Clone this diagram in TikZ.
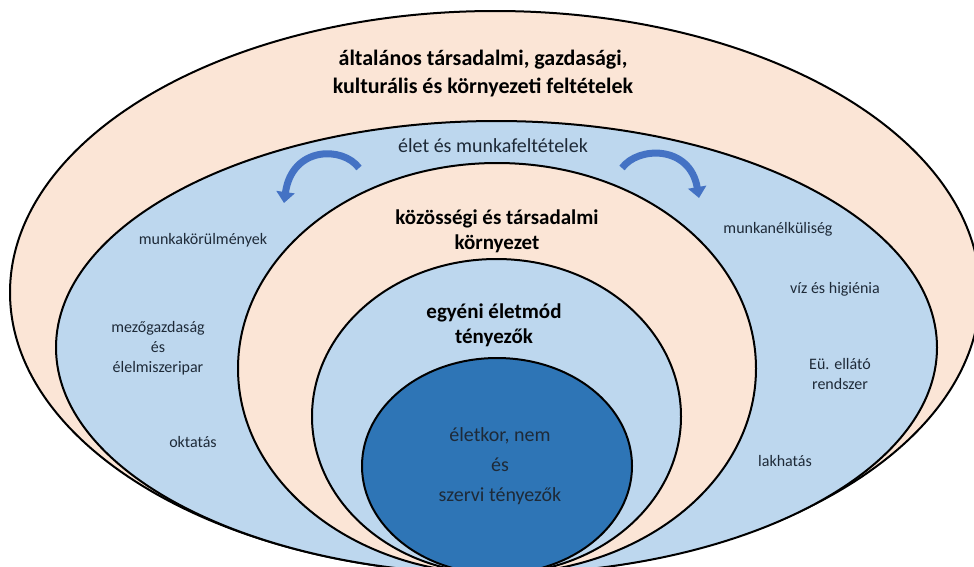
\documentclass[tikz,border=0pt]{standalone}
\usepackage{fontspec}
\setmainfont{Carlito}
\usetikzlibrary{arrows.meta}
\definecolor{peach}{HTML}{FBE5D6}
\definecolor{lblue}{HTML}{BDD7EE}
\definecolor{dblue}{HTML}{2E75B6}
\definecolor{arrowblue}{HTML}{4472C4}
\definecolor{arrowedge}{HTML}{2F5597}
\definecolor{txt}{HTML}{1E2A38}
\tikzset{
  ring/.style={draw=black, line width=2pt},
  title/.style={align=center, font=\fontsize{22}{28}\selectfont\bfseries, text=black},
  midlabel/.style={align=center, font=\fontsize{21}{25}\selectfont\bfseries, text=black},
  ringlabel/.style={align=center, font=\fontsize{20}{24}\selectfont, text=txt},
  sidelabel/.style={align=center, font=\fontsize{16}{20}\selectfont, text=txt},
  corelabel/.style={align=center, font=\fontsize{20}{30}\selectfont, text=txt},
  curvearrow/.style={draw=arrowblue, line width=7pt, -{Triangle[width=18pt,length=11pt]}}
}
\begin{document}
\begin{tikzpicture}[x=1pt,y=-1pt]
\useasboundingbox (0,0) rectangle (974,566);
\fill[white] (0,0) rectangle (974,566);
\begin{scope}
\clip (0,0) rectangle (974,566);
\draw[ring, fill=peach] (495,292.5) ellipse [x radius=485, y radius=281.5];
\draw[ring, fill=lblue] (496.5,347.5) ellipse [x radius=440.5, y radius=226.5];
\draw[ring, fill=peach] (497,368.5) ellipse [x radius=259, y radius=205.5];
\draw[ring, fill=lblue] (496.5,416.5) ellipse [x radius=184.5, y radius=157.5];
\draw[ring, fill=dblue] (497,466) ellipse [x radius=135, y radius=108];
\end{scope}

\draw[curvearrow] (359,168) .. controls (343,146) and (292,146) .. (284,203);
\draw[curvearrow] (622,168) .. controls (638,146) and (690,145) .. (699,198);

\node[title] (t1) at (483,74) {általános társadalmi, gazdasági,\\kulturális és környezeti feltételek};
\node[ringlabel] (t2) at (493,146) {élet és munkafeltételek};
\node[midlabel] (t3) at (497,231) {közösségi és társadalmi\\környezet};
\node[midlabel] (t4) at (494,325) {egyéni életmód\\tényezők};
\node[corelabel] (t5) at (500,466) {életkor, nem\\és\\szervi tényezők};

\node[sidelabel] (l1) at (203,240) {munkakörülmények};
\node[sidelabel] (l2) at (158,348) {mezőgazdaság\\és\\élelmiszeripar};
\node[sidelabel] (l3) at (193,442) {oktatás};

\node[sidelabel] (r1) at (778,229) {munkanélküliség};
\node[sidelabel] (r2) at (835,289) {víz és higiénia};
\node[sidelabel] (r3) at (840,374) {Eü. ellátó\\rendszer};
\node[sidelabel] (r4) at (785,461) {lakhatás};
\end{tikzpicture}
\end{document}
